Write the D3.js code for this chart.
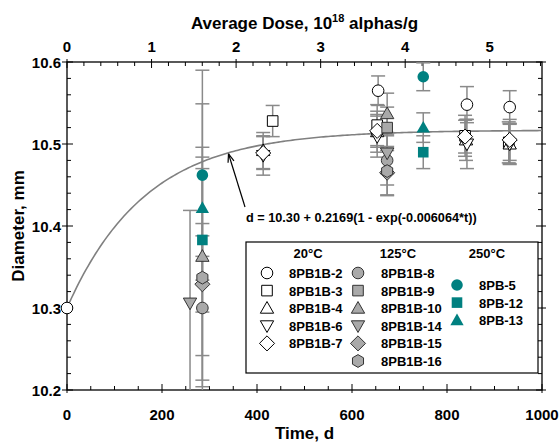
<!DOCTYPE html>
<html><head><meta charset="utf-8">
<script src="https://cdn.jsdelivr.net/npm/d3@7"></script>
<style>
body{margin:0;background:#fff;}
svg text{font-family:"Liberation Sans",Arial,sans-serif;font-weight:bold;fill:#000;}
</style></head>
<body><svg id="c" width="559" height="442"></svg>
<script>
// ---- data: [time (d), diameter (mm), error (mm)] ----
const initialPoint = [[0, 10.300, 0]];
const s_8PB1B_2  = [[655, 10.565, 0.018], [842, 10.548, 0.022], [932, 10.545, 0.020]];
const s_8PB1B_3  = [[433, 10.528, 0.019], [653, 10.523, 0.025], [838, 10.510, 0.025], [930, 10.502, 0.025]];
const s_8PB1B_4  = [[413, 10.492, 0.022], [653, 10.515, 0.025], [840, 10.505, 0.025], [932, 10.500, 0.025]];
const s_8PB1B_6  = [[413, 10.486, 0.024], [653, 10.509, 0.025], [842, 10.500, 0.030], [932, 10.500, 0.024]];
const s_8PB1B_7  = [[413, 10.489, 0.020], [653, 10.516, 0.020], [838, 10.509, 0.020], [932, 10.505, 0.025]];
const s_8PB1B_8  = [[285, 10.300, 0.088], [674, 10.480, 0.030]];
const s_8PB1B_9  = [[674, 10.520, 0.025]];
const s_8PB1B_10 = [[285, 10.363, 0.121], [674, 10.537, 0.025]];
const s_8PB1B_14 = [[259, 10.306, 0.113], [674, 10.489, 0.025]];
const s_8PB1B_15 = [[285, 10.329, 0.167], [674, 10.465, 0.027]];
const s_8PB1B_16 = [[285, 10.337, 0.133], [674, 10.467, 0.030]];
const s_8PB_5    = [[285, 10.462, 0.128], [750, 10.582, 0.017]];
const s_8PB_12   = [[285, 10.383, 0.020], [750, 10.490, 0.020]];
const s_8PB_13   = [[285, 10.422, 0.127], [750, 10.520, 0.018]];

const seriesNames   = ["8PB1B-2","8PB1B-3","8PB1B-4","8PB1B-6","8PB1B-7",
                       "8PB1B-8","8PB1B-9","8PB1B-10","8PB1B-14","8PB1B-15","8PB1B-16",
                       "8PB-5","8PB-12","8PB-13"];
const seriesData    = [s_8PB1B_2,s_8PB1B_3,s_8PB1B_4,s_8PB1B_6,s_8PB1B_7,
                       s_8PB1B_8,s_8PB1B_9,s_8PB1B_10,s_8PB1B_14,s_8PB1B_15,s_8PB1B_16,
                       s_8PB_5,s_8PB_12,s_8PB_13];
const seriesShapes  = ["circle","square","up","down","diamond",
                       "circle","square","up","down","diamond","hex",
                       "circle","square","up"];
const seriesGroup   = [0,0,0,0,0, 1,1,1,1,1,1, 2,2,2];
const groupLabels   = ["20°C","125°C","250°C"];

// fit: d = 10.30 + 0.2169(1 - exp(-0.006064*t))
const fitA = 10.30, fitB = 0.2169, fitK = 0.006064;
const fitLabel = "d = 10.30 + 0.2169(1 - exp(-0.006064*t))";

const xTicks = [0,200,400,600,800,1000];
const yTicks = [10.2,10.3,10.4,10.5,10.6];
const doseTicks = [0,1,2,3,4,5];
const daysPerDoseUnit = 178;   // 1e18 alphas/g per ~178 d

// ---- drawing ----
const svg = d3.select("#c");
const L = 67, R = 542, T = 62, B = 390;
const x = d3.scaleLinear().domain([0,1000]).range([L,R]);
const y = d3.scaleLinear().domain([10.2,10.6]).range([B,T]);
const xd = d3.scaleLinear().domain([0,1000/daysPerDoseUnit]).range([L,R]);

const groupFill = ["#ffffff","#a9a9a9","#008080"];
const groupStroke = ["#000","#333","none"];
const errColor = "#8a8a8a";

svg.append("clipPath").attr("id","pc").append("rect")
  .attr("x",L).attr("y",T).attr("width",R-L).attr("height",B-T);

const xMinor = d3.range(0,1001,50);
const yMinor = d3.range(0,21).map(i=>10.2+i*0.02);
const dMinor = d3.range(0,29).map(i=>i*0.2).filter(v=>v<=1000/daysPerDoseUnit);

const gAx = svg.append("g").attr("stroke","#000").attr("stroke-width",1);
xMinor.forEach(v=>{ const major = v%200===0;
  gAx.append("line").attr("x1",x(v)).attr("x2",x(v)).attr("y1",B+(major?3:0)).attr("y2",B-(major?6:4)); });
dMinor.forEach(v=>{ const major = Math.abs(v-Math.round(v))<1e-6;
  gAx.append("line").attr("x1",xd(v)).attr("x2",xd(v)).attr("y1",T-(major?3:0)).attr("y2",T+(major?6:4)); });
yMinor.forEach(v=>{ const major = Math.abs(v*10-Math.round(v*10))<1e-6;
  gAx.append("line").attr("x1",L-(major?5:0)).attr("x2",L+(major?6:4)).attr("y1",y(v)).attr("y2",y(v));
  gAx.append("line").attr("x1",R+(major?4:0)).attr("x2",R-(major?6:4)).attr("y1",y(v)).attr("y2",y(v)); });
gAx.append("rect").attr("x",L).attr("y",T).attr("width",R-L).attr("height",B-T).attr("fill","none").attr("stroke-width",1.3);

// tick labels
svg.append("g").selectAll("text").data(xTicks).join("text")
  .attr("x",d=>x(d)).attr("y",B+30).attr("text-anchor","middle").attr("font-size",15).text(d=>d);
svg.append("g").selectAll("text").data(yTicks).join("text")
  .attr("x",L-6).attr("y",d=>y(d)+5.5).attr("text-anchor","end").attr("font-size",15).text(d=>d.toFixed(1));
svg.append("g").selectAll("text").data(doseTicks).join("text")
  .attr("x",d=>xd(d)).attr("y",T-10).attr("text-anchor","middle").attr("font-size",15).text(d=>d);

// titles
svg.append("text").attr("x",(L+R)/2).attr("y",439).attr("text-anchor","middle").attr("font-size",17).text("Time, d");
const tt = svg.append("text").attr("x",(L+R)/2).attr("y",29).attr("text-anchor","middle").attr("font-size",17);
tt.append("tspan").text("Average Dose, 10");
tt.append("tspan").attr("dy",-7).attr("font-size",11).text("18");
tt.append("tspan").attr("dy",7).text(" alphas/g");
svg.append("text").attr("transform",`translate(24,${(T+B)/2}) rotate(-90)`).attr("text-anchor","middle").attr("font-size",17).text("Diameter, mm");

const plot = svg.append("g").attr("clip-path","url(#pc)");

// error bars
const eg = plot.append("g").attr("stroke",errColor).attr("stroke-width",1.5);
seriesData.forEach(arr=>arr.forEach(([t,v,e])=>{
  if(!e) return;
  eg.append("line").attr("x1",x(t)).attr("x2",x(t)).attr("y1",y(v-e)).attr("y2",y(v+e));
  [v-e,v+e].forEach(c=>eg.append("line").attr("x1",x(t)-7).attr("x2",x(t)+7).attr("y1",y(c)).attr("y2",y(c)));
}));

// fit curve
const fitPts = d3.range(0,1001,5).map(t=>[t, fitA+fitB*(1-Math.exp(-fitK*t))]);
plot.append("path").datum(fitPts)
  .attr("d",d3.line().x(d=>x(d[0])).y(d=>y(d[1])))
  .attr("fill","none").attr("stroke","#808080").attr("stroke-width",1.6);

function shapePath(s, r){
  switch(s){
    case "circle": return d3.symbol(d3.symbolCircle, Math.PI*r*r)();
    case "square": return `M${-r},${-r}H${r}V${r}H${-r}Z`;
    case "up": { const h=r*1.15; return `M0,${-h}L${h},${h*0.75}L${-h},${h*0.75}Z`; }
    case "down": { const h=r*1.15; return `M0,${h}L${h},${-h*0.75}L${-h},${-h*0.75}Z`; }
    case "diamond": { const h=r*1.3; return `M0,${-h}L${h},0L0,${h}L${-h},0Z`; }
    case "hex": { const p=[]; for(let k=0;k<6;k++){const a=Math.PI/6+k*Math.PI/3; p.push([r*1.1*Math.cos(a), r*1.1*Math.sin(a)]);} return "M"+p.map(q=>q.join(",")).join("L")+"Z"; }
  }
}
function drawSym(g, s, grp, cx, cy){
  g.append("path").attr("d",shapePath(s, s==="square"?5.3:5.8)).attr("transform",`translate(${cx},${cy})`)
    .attr("fill",groupFill[grp]).attr("stroke",groupStroke[grp]).attr("stroke-width",1);
}
const mg = plot.append("g");
seriesData.forEach((arr,i)=>arr.forEach(([t,v])=>drawSym(mg, seriesShapes[i], seriesGroup[i], x(t), y(v))));
initialPoint.forEach(([t,v])=>drawSym(svg, "circle", 0, x(t), y(v)));

// annotation
(function(){
  const ax=x(340), ay=y(fitA+fitB*(1-Math.exp(-fitK*340)))+1;
  svg.append("line").attr("x1",245).attr("y1",207).attr("x2",ax).attr("y2",ay).attr("stroke","#000").attr("stroke-width",1.2);
  const ang=Math.atan2(207-ay,245-ax);
  [0.35,-0.35].forEach(da=>svg.append("line").attr("x1",ax).attr("y1",ay)
    .attr("x2",ax+9*Math.cos(ang+da)).attr("y2",ay+9*Math.sin(ang+da)).attr("stroke","#000").attr("stroke-width",1.2));
})();
svg.append("text").attr("x",246).attr("y",222).attr("font-size",12.7).text(fitLabel);

// legend
const lg = svg.append("g");
lg.append("rect").attr("x",246).attr("y",242).attr("width",292).attr("height",131).attr("fill","#fff").attr("stroke","#000").attr("stroke-width",1.2);
const headX = [308,398,487];
groupLabels.forEach((g,k)=>lg.append("text").attr("x",headX[k]).attr("y",258).attr("text-anchor","middle").attr("font-size",13).text(g));
const symX = [267,358,457], labX=[289,381,479];
const rowY0 = [273,273,285], rowDy = 17.6;
const counters=[0,0,0];
seriesNames.forEach((n,i)=>{
  const g=seriesGroup[i]; const r=counters[g]++;
  const yy=rowY0[g]+r*rowDy;
  drawSym(lg, seriesShapes[i], g, symX[g], yy);
  lg.append("text").attr("x",labX[g]).attr("y",yy+5).attr("font-size",13).text(n);
});
</script></body></html>
